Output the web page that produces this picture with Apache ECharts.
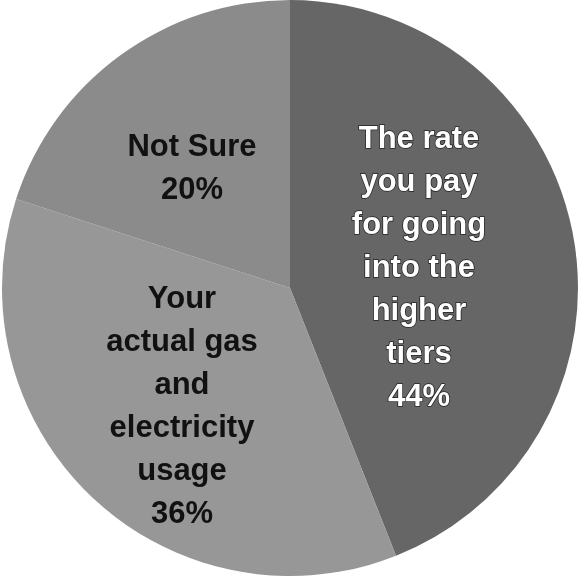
<!DOCTYPE html>
<html><head><meta charset="utf-8">
<script src="https://cdn.jsdelivr.net/npm/echarts@6/dist/echarts.min.js"></script>
<style>html,body{margin:0;padding:0;background:#fff}#c{width:580px;height:578px}</style>
</head><body><div id="c"></div>
<script>
const categories = ["The rate\nyou pay\nfor going\ninto the\nhigher\ntiers", "Your\nactual gas\nand\nelectricity\nusage", "Not Sure"];
const values = [44, 36, 20];
const colors = ["#666666", "#979797", "#8b8b8b"];
const labelColors = ["#ffffff", "#111111", "#111111"];
const labelPos = [[419, 268], [182, 407], [192, 169]];

const chart = echarts.init(document.getElementById('c'));
chart.setOption({
  animation: false,
  series: [{
    type: 'pie',
    center: [290, 288],
    radius: [0, 288],
    startAngle: 90,
    clockwise: true,
    data: categories.map((c, i) => ({
      name: c, value: values[i],
      itemStyle: { color: colors[i] },
      label: {
        color: labelColors[i],
        textBorderColor: i === 0 ? '#222' : 'transparent',
        textBorderWidth: i === 0 ? 1.5 : 0
      }
    })),
    itemStyle: { borderWidth: 0 },
    label: {
      show: true,
      position: 'inside',
      formatter: p => p.name + '\n' + p.value + '%',
      fontFamily: 'Liberation Sans, Arial, sans-serif',
      fontWeight: 'bold',
      fontSize: 31,
      lineHeight: 43,
      align: 'center'
    },
    labelLine: { show: false },
    labelLayout: p => ({ x: labelPos[p.dataIndex][0], y: labelPos[p.dataIndex][1], align: 'center', verticalAlign: 'middle' }),
    emphasis: { disabled: true }
  }]
});
</script></body></html>
